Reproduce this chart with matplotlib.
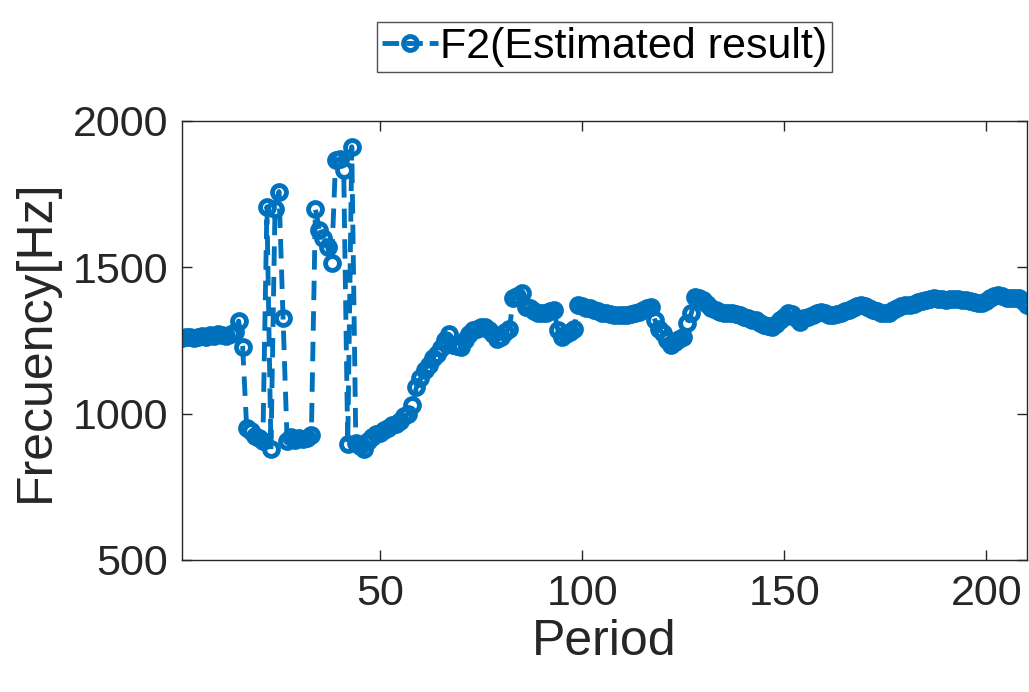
import matplotlib
matplotlib.use("Agg")
import matplotlib.pyplot as plt

# F2 estimates per period
period = list(range(1, 211))
f2_hz = [
    1258, 1260, 1262, 1258, 1263, 1265, 1262, 1268, 1266, 1270,
    1268, 1265, 1270, 1280, 1316, 1228, 950, 940, 925, 915,
    905, 1706, 878, 1700, 1758, 1325, 905, 920, 910, 918,
    912, 915, 928, 1698, 1627, 1600, 1570, 1513, 1866, 1868,
    1832, 895, 1911, 900, 890, 878, 905, 920, 930, 935,
    945, 950, 960, 965, 975, 990, 1000, 1030, 1090, 1120,
    1150, 1165, 1190, 1205, 1225, 1250, 1270, 1235, 1230, 1228,
    1250, 1270, 1285, 1290, 1295, 1297, 1285, 1270, 1255, 1262,
    1280, 1290, 1395, 1400, 1410, 1365, 1360, 1350, 1345, 1342,
    1345, 1350, 1353, 1285, 1262, 1270, 1280, 1290, 1371, 1368,
    1362, 1360, 1355, 1350, 1345, 1342, 1340, 1338, 1336, 1336,
    1338, 1340, 1342, 1348, 1355, 1360, 1365, 1319, 1290, 1274,
    1250, 1234, 1245, 1255, 1262, 1308, 1342, 1399, 1395, 1388,
    1375, 1362, 1354, 1348, 1345, 1342, 1342, 1340, 1335, 1330,
    1325, 1320, 1319, 1310, 1302, 1300, 1297, 1305, 1318, 1330,
    1342, 1340, 1325, 1314, 1325, 1330, 1338, 1342, 1348, 1345,
    1338, 1336, 1340, 1345, 1350, 1355, 1362, 1368, 1371, 1368,
    1362, 1355, 1350, 1345, 1342, 1345, 1352, 1360, 1368, 1371,
    1372, 1375, 1380, 1385, 1388, 1390, 1393, 1390, 1390, 1388,
    1390, 1392, 1390, 1388, 1386, 1385, 1380, 1378, 1376, 1385,
    1395, 1402, 1405, 1400, 1395, 1393, 1393, 1395, 1385, 1371,
]
x_ticks = [50, 100, 150, 200]
y_ticks = [500, 1000, 1500, 2000]

plt.rcParams["font.family"] = ["Liberation Sans", "DejaVu Sans"]
plt.rcParams["lines.scale_dashes"] = False

fig = plt.figure(figsize=(10.29, 6.92), dpi=100)
ax = fig.add_axes([0.1769, 0.1908, 0.8209, 0.6348])

ax.plot(period, f2_hz, color="#0072BD", linestyle="--", dashes=(14, 8),
        linewidth=3.5, marker="o", markersize=10, markeredgewidth=3.5,
        markerfacecolor="none", label="F2(Estimated result)")

ax.set_xlim(1, 210)
ax.set_ylim(500, 2000)
ax.set_xticks(x_ticks)
ax.set_yticks(y_ticks)
ax.tick_params(direction="in", length=7, width=1, top=True, right=True,
               labelsize=31, colors="#262626", pad=10)
for side in ax.spines.values():
    side.set_color("#262626")
    side.set_linewidth(1)

ax.set_xlabel("Period", fontsize=36, color="#262626", labelpad=4)
ax.set_ylabel("Frecuency[Hz]", fontsize=36, color="#262626", labelpad=10)

leg = ax.legend(loc="lower center", bbox_to_anchor=(0.5, 1.111), borderaxespad=0,
                fontsize=31, frameon=True, fancybox=False, handlelength=1.3,
                handletextpad=0.05, borderpad=0.12)
leg.get_frame().set_edgecolor("#262626")
leg.get_frame().set_linewidth(1)
for handle in leg.get_lines():
    handle.set_dashes((12, 5))

fig.savefig("out.png", dpi=100)
plt.close(fig)
